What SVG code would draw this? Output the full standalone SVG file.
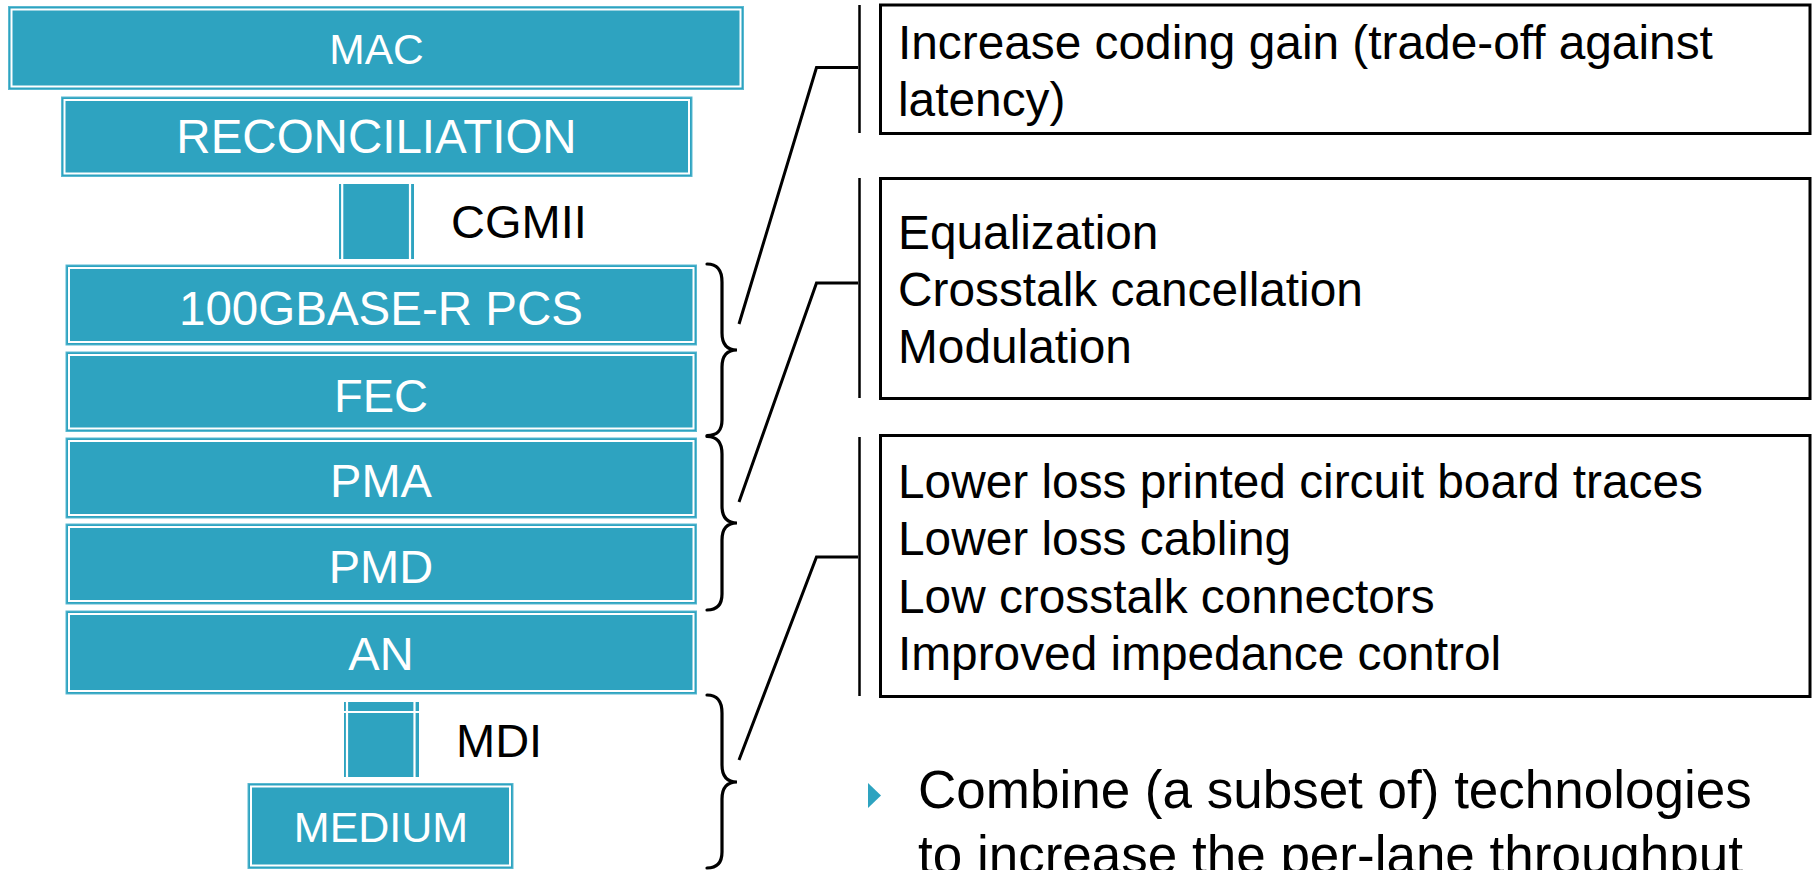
<svg xmlns="http://www.w3.org/2000/svg" width="1820" height="870" viewBox="0 0 1820 870">
<style>
.box{fill:#2EA3C0;stroke:#5AB9D1;stroke-width:1}
.inner{fill:none;stroke:#ffffff;stroke-width:2}
.wl{stroke:#ffffff;stroke-width:2.2}
.lbl{font-family:"Liberation Sans",Arial,sans-serif;fill:#ffffff;text-anchor:middle}
.blk{font-family:"Liberation Sans",Arial,sans-serif;fill:#000000}
.note{fill:#ffffff;stroke:#000000;stroke-width:3}
.bar{stroke:#000000;stroke-width:2.5;fill:none}
.con{stroke:#000000;stroke-width:3;fill:none;stroke-linejoin:miter}
.brace{stroke:#000000;stroke-width:3.2;fill:none;stroke-linecap:round}
</style>
<rect width="1820" height="870" fill="#ffffff"/>

<g id="mac">
<rect class="box" x="8.5" y="6.5" width="735" height="83"/>
<rect class="inner" x="11.5" y="9.5" width="729" height="77"/>
<text class="lbl" x="376.5" y="64" font-size="42.5">MAC</text>
</g>
<g id="reconciliation">
<rect class="box" x="61.5" y="97" width="630.5" height="79.5"/>
<rect class="inner" x="64.5" y="100" width="624.5" height="73.5"/>
<text class="lbl" x="376.5" y="153" font-size="47.5">RECONCILIATION</text>
</g>
<g id="cgmii">
<rect x="339" y="184" width="75" height="75" fill="#2EA3C0"/>
<line class="wl" x1="342.2" y1="184" x2="342.2" y2="259"/>
<line class="wl" x1="410" y1="184" x2="410" y2="259"/>
<text class="blk" x="451" y="238" font-size="47">CGMII</text>
</g>
<g id="pcs">
<rect class="box" x="66" y="265" width="630.5" height="80"/>
<rect class="inner" x="69" y="268" width="624.5" height="74"/>
<text class="lbl" x="381" y="325" font-size="47.5">100GBASE-R PCS</text>
</g>
<g id="fec">
<rect class="box" x="66" y="352" width="630.5" height="79.5"/>
<rect class="inner" x="69" y="355" width="624.5" height="73.5"/>
<text class="lbl" x="381" y="412" font-size="47">FEC</text>
</g>
<g id="pma">
<rect class="box" x="66" y="438" width="630.5" height="80"/>
<rect class="inner" x="69" y="441" width="624.5" height="74"/>
<text class="lbl" x="381" y="497" font-size="47">PMA</text>
</g>
<g id="pmd">
<rect class="box" x="66" y="524" width="630.5" height="80"/>
<rect class="inner" x="69" y="527" width="624.5" height="74"/>
<text class="lbl" x="381" y="583" font-size="47">PMD</text>
</g>
<g id="an">
<rect class="box" x="66" y="611" width="630.5" height="83"/>
<rect class="inner" x="69" y="614" width="624.5" height="77"/>
<text class="lbl" x="381" y="670" font-size="47">AN</text>
</g>
<g id="mdi">
<rect x="344" y="702" width="75" height="75" fill="#2EA3C0"/>
<line class="wl" x1="347" y1="702" x2="347" y2="777"/>
<line class="wl" x1="414.5" y1="702" x2="414.5" y2="777"/>
<line class="wl" x1="344" y1="712" x2="419" y2="712"/>
<text class="blk" x="456" y="757" font-size="47">MDI</text>
</g>
<g id="medium">
<rect class="box" x="248" y="783.5" width="265" height="85"/>
<rect class="inner" x="251" y="786.5" width="259" height="79"/>
<text class="lbl" x="381" y="842" font-size="43">MEDIUM</text>
</g>

<g id="braces">
<path class="brace" d="M707,264 C717,264 722,270 722,282 L722,333 C722,344 727,350 737,350 C727,350 722,356 722,367 L722,420 C722,431 717,435.5 707,435.5"/>
<path class="brace" d="M707,436.5 C717,436.5 722,442 722,454 L722,506 C722,517 727,523 737,523 C727,523 722,529 722,540 L722,594 C722,605 717,610 707,610"/>
<path class="brace" d="M707,695 C717,695 722,701 722,713 L722,765 C722,776 727,782 737,782 C727,782 722,788 722,799 L722,852 C722,863 717,868 707,868"/>
</g>

<g id="connectors">
<polyline class="con" points="739,324 816.5,67.5 858,67.5"/>
<polyline class="con" points="739,502 816.5,283 858,283"/>
<polyline class="con" points="739,760 816.5,557 858,557"/>
<line class="bar" x1="859.5" y1="5" x2="859.5" y2="133"/>
<line class="bar" x1="859.5" y1="178" x2="859.5" y2="398"/>
<line class="bar" x1="859.5" y1="437" x2="859.5" y2="696"/>
</g>

<g id="note1">
<rect class="note" x="880.5" y="5" width="929.5" height="128.5"/>
<text class="blk" x="898" y="58.5" font-size="47.8">Increase coding gain (trade-off against</text>
<text class="blk" x="898" y="116" font-size="47.8">latency)</text>
</g>
<g id="note2">
<rect class="note" x="880.5" y="178.5" width="929.5" height="220"/>
<text class="blk" x="898" y="249" font-size="47.8">Equalization</text>
<text class="blk" x="898" y="306" font-size="47.8">Crosstalk cancellation</text>
<text class="blk" x="898" y="363" font-size="47.8">Modulation</text>
</g>
<g id="note3">
<rect class="note" x="880.5" y="435.5" width="929.5" height="261"/>
<text class="blk" x="898" y="497.5" font-size="47.8">Lower loss printed circuit board traces</text>
<text class="blk" x="898" y="555" font-size="47.8">Lower loss cabling</text>
<text class="blk" x="898" y="612.5" font-size="47.8">Low crosstalk connectors</text>
<text class="blk" x="898" y="669.5" font-size="47.8">Improved impedance control</text>
</g>

<g id="bullet">
<polygon points="868,783 881,795.5 868,808" fill="#2EA3C0"/>
<text class="blk" x="918" y="808" font-size="53">Combine (a subset of) technologies</text>
<text class="blk" x="918" y="873" font-size="53">to increase the per-lane throughput</text>
</g>
</svg>
